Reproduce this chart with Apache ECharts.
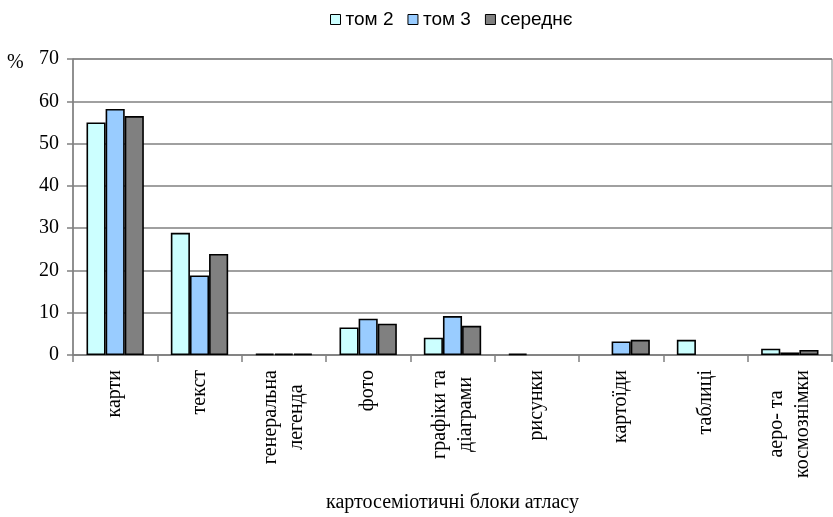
<!DOCTYPE html>
<html>
<head>
<meta charset="utf-8">
<script src="https://cdn.jsdelivr.net/npm/echarts@6/dist/echarts.min.js"></script>
<style>html,body{margin:0;padding:0;background:#fff;}#c{width:833px;height:517px;}</style>
</head>
<body>
<div id="c"></div>
<script>
const categories = ["карти", "текст", "генеральна\nлегенда", "фото", "графіки та\nдіаграми", "рисунки", "картоїди", "таблиці", "аеро- та\nкосмознімки"];
const seriesNames = ["том 2", "том 3", "середнє"];
const tom2 = [55.0, 28.9, 0.3, 6.5, 4.1, 0.3, 0, 3.6, 1.5];
const tom3 = [58.2, 18.8, 0.3, 8.6, 9.2, 0, 3.2, 0, 0.6];
const avg = [56.5, 23.9, 0.3, 7.4, 6.9, 0, 3.6, 0, 1.2];
const yTicks = [0, 10, 20, 30, 40, 50, 60, 70];

const colors = ["#CCFFFF", "#99CCFF", "#808080"];
const serif = "'Liberation Serif', 'Times New Roman', serif";
const sans = "'Liberation Sans', Arial, sans-serif";

const chart = echarts.init(document.getElementById('c'));
const mk = (name, data, color) => ({
  name: name,
  type: 'bar',
  data: data.map(v => v === 0 ? '-' : v),
  barGap: '0%',
  barCategoryGap: '32%',
  itemStyle: { color: color, borderColor: '#000', borderWidth: 1.6 }
});
chart.setOption({
  animation: false,
  backgroundColor: '#fff',
  legend: {
    left: 325, top: 5,
    itemWidth: 10, itemHeight: 10, itemGap: 14,
    icon: 'rect',
    data: seriesNames,
    itemStyle: { borderColor: '#000', borderWidth: 1 },
    textStyle: { fontFamily: sans, fontSize: 19, color: '#000' }
  },
  graphic: [{
    type: 'text', left: 7, top: 53,
    style: { text: '%', font: "20px 'Liberation Serif'", fill: '#000' }
  }],
  grid: { left: 73, right: 1, top: 59, bottom: 162, outerBoundsMode: 'none', containLabel: false, show: true, borderColor: '#808080', borderWidth: 1 },
  xAxis: {
    type: 'category',
    data: categories,
    name: 'картосеміотичні блоки атласу',
    nameLocation: 'middle',
    nameGap: 138,
    nameTextStyle: { fontFamily: serif, fontSize: 20, color: '#000' },
    axisLine: { lineStyle: { color: '#808080', width: 1.5 } },
    axisTick: { show: true, length: 7, lineStyle: { color: '#808080', width: 1.5 } },
    axisLabel: {
      interval: 0, rotate: 90, margin: 15,
      fontFamily: serif, fontSize: 20, color: '#000', lineHeight: 26,
      formatter: v => v.split('\n').map(s => '{c|' + s + '}').join('\n'),
      rich: { c: { align: 'center', fontFamily: serif, fontSize: 20, color: '#000', lineHeight: 26 } }
    }
  },
  yAxis: {
    type: 'value',
    min: yTicks[0], max: yTicks[yTicks.length - 1], interval: 10,
    axisLine: { show: true, lineStyle: { color: '#808080', width: 1.5 } },
    axisTick: { show: true, length: 6, lineStyle: { color: '#808080', width: 1.5 } },
    axisLabel: { margin: 14, fontFamily: serif, fontSize: 20, color: '#000' },
    splitLine: { lineStyle: { color: '#808080', width: 1.5 } }
  },
  series: [mk(seriesNames[0], tom2, colors[0]), mk(seriesNames[1], tom3, colors[1]), mk(seriesNames[2], avg, colors[2])]
});
</script>
</body>
</html>
